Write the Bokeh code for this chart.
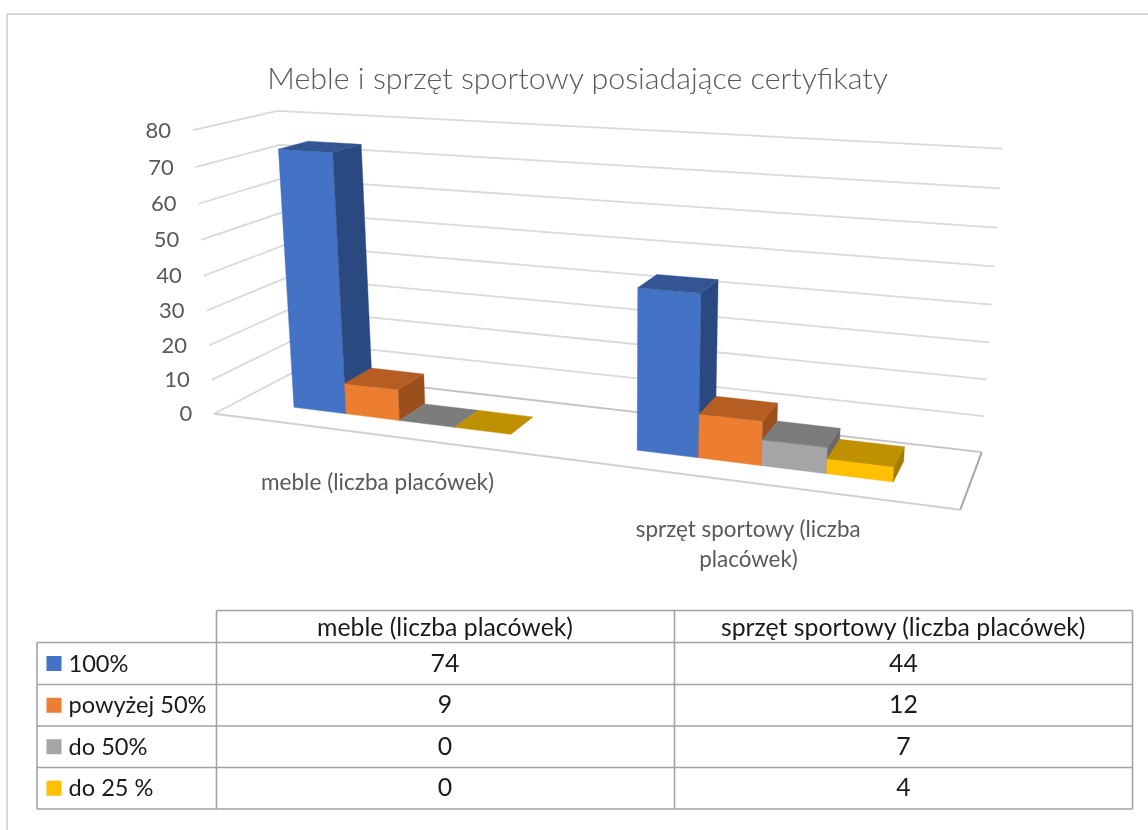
import numpy as np
from bokeh.plotting import figure
from bokeh.models import Range1d, ColumnDataSource
from bokeh.core.properties import value
from bokeh.embed import file_html
from bokeh.resources import INLINE

TITLE = "Meble i sprzęt sportowy posiadające certyfikaty"
categories = ["meble (liczba placówek)", "sprzęt sportowy (liczba placówek)"]
series = ["100%", "powyżej 50%", "do 50%", "do 25 %"]
v_100 = [74, 44]
v_pow50 = [9, 12]
v_do50 = [0, 7]
v_do25 = [0, 4]
y_ticks = [0, 10, 20, 30, 40, 50, 60, 70, 80]

front_col = ["#4472C4", "#ED7D31", "#A5A5A5", "#FFC000"]
top_col = ["#335593", "#B55D23", "#7C7C7C", "#BF9000"]
side_col = ["#2A4980", "#9B4F1D", "#6A6A6A", "#A37B00"]

FONT = value("Lato")
GRID = "#D9D9D9"
TXT = "#595959"

# camera fitted to the plot box corners: (u, w, v/vmax) -> screen
anchors = [((0, 0, 0), (213.5, 413)), ((1, 0, 0), (960, 509)), ((0, 1, 0), (293, 372)),
           ((1, 1, 0), (981, 452)), ((0, 0, 1), (192.5, 130)), ((0, 1, 1), (277, 110)),
           ((1, 1, 1), (1002, 148))]
A, b = [], []
for (u, w, h), (sx, sy) in anchors:
    A.append([u, w, h, 1, 0, 0, 0, 0, -sx*u, -sx*w, -sx*h]); b.append(sx)
    A.append([0, 0, 0, 0, u, w, h, 1, -sy*u, -sy*w, -sy*h]); b.append(sy)
cam = np.append(np.linalg.lstsq(np.array(A, float), np.array(b, float), rcond=None)[0], 1).reshape(3, 4)

VMAX = y_ticks[-1]
def proj(u, w, val):
    q = cam @ np.array([u, w, val/VMAX, 1.0])
    return float(q[0]/q[2]), float(q[1]/q[2])

p = figure(width=1148, height=830, x_range=Range1d(0, 1148), y_range=Range1d(830, 0),
           output_backend="svg", toolbar_location=None, min_border=0)
# the figure fills the window exactly, from its top left corner
p.styles = {"position": "fixed", "left": "0", "top": "0"}
p.axis.visible = False
p.grid.visible = False
p.outline_line_color = None

# chart frame
p.line([6.5, 6.5, 1148], [830, 13.5, 13.5], line_color=GRID, line_width=2)

# walls gridlines
for t in y_ticks[1:]:
    pts = [proj(0, 0, t), proj(0, 1, t), proj(1, 1, t)]
    p.line([a[0] for a in pts], [a[1] for a in pts], line_color=GRID, line_width=1.8)
# floor
pts = [proj(0, 0, 0), proj(0, 1, 0)]
p.line([a[0] for a in pts], [a[1] for a in pts], line_color=GRID, line_width=1.8)
pts = [proj(0, 1, 0), proj(1, 1, 0)]
p.line([a[0] for a in pts], [a[1] for a in pts], line_color="#C4C4C4", line_width=1.8)
pts = [proj(0, 0, 0), proj(1, 0, 0)]
p.line([a[0] for a in pts], [a[1] for a in pts], line_color="#D0D0D0", line_width=2)
pts = [proj(1, 0, 0), proj(1, 1, 0)]
p.line([a[0] for a in pts], [a[1] for a in pts], line_color="#A6A6A6", line_width=2)

# bars
GAP = 2.15
W0, W1 = 0.30, 0.67
values = [v_100, v_pow50, v_do50, v_do25]
xs, ys, cols = [], [], []
def face(pts, c):
    xs.append([a[0] for a in pts]); ys.append([a[1] for a in pts]); cols.append(c)
unit = 1 / (len(categories) * (len(series) + GAP))
for c in range(len(categories)):
    for s in range(len(series)):
        val = values[s][c]
        u0 = c * (len(series) + GAP) * unit + (GAP/2 + s) * unit
        u1 = u0 + unit
        if val > 0:
            face([proj(u0, W0, 0), proj(u1, W0, 0), proj(u1, W0, val), proj(u0, W0, val)], front_col[s])
            face([proj(u1, W0, 0), proj(u1, W1, 0), proj(u1, W1, val), proj(u1, W0, val)], side_col[s])
        face([proj(u0, W0, val), proj(u1, W0, val), proj(u1, W1, val), proj(u0, W1, val)], top_col[s])
p.patches("xs", "ys", fill_color="cols", line_color="cols", line_width=0.4,
          source=ColumnDataSource(dict(xs=xs, ys=ys, cols=cols)))

# title and tick labels
p.text([577.5], [76], text=[TITLE], text_font=value("Lato Light"), text_font_size="30.4px", text_color=TXT,
       text_align="center", text_baseline="middle")
tx = [proj(0, 0, t)[0] - 22 for t in y_ticks]
ty = [proj(0, 0, t)[1] for t in y_ticks]
p.text(tx, ty, text=[str(t) for t in y_ticks], text_font=FONT, text_font_size="22px",
       text_color=TXT, text_align="right", text_baseline="middle")

# category labels
p.text([377], [481], text=[categories[0]], text_font=FONT, text_font_size="22.6px", text_color=TXT,
       text_align="center", text_baseline="middle")
p.text([748, 748], [528, 558], text=["sprzęt sportowy (liczba", "placówek)"], text_font=FONT,
       text_font_size="22.4px", text_color=TXT, text_align="center", text_baseline="middle")

# data table
T_X = [36.5, 216, 674, 1132]
T_Y = [610, 642, 684, 725.5, 767, 808.5]
BORDER = "#A3A3A3"
p.multi_line([[T_X[0], T_X[3]]] * 4 + [[T_X[1], T_X[3]]],
             [[y, y] for y in T_Y[1:5]] + [[T_Y[0], T_Y[0]]],
             line_color=BORDER, line_width=1.6)
p.multi_line([[T_X[0], T_X[3]]], [[T_Y[5], T_Y[5]]], line_color=BORDER, line_width=1.6)
p.multi_line([[T_X[0], T_X[0]], [T_X[1], T_X[1]], [T_X[2], T_X[2]], [T_X[3], T_X[3]]],
             [[T_Y[1], T_Y[5]], [T_Y[0], T_Y[5]], [T_Y[0], T_Y[5]], [T_Y[0], T_Y[5]]],
             line_color=BORDER, line_width=1.6)
col_c = [(T_X[1] + T_X[2]) / 2 - 0.5, (T_X[2] + T_X[3]) / 2]
row_c = [(T_Y[i] + T_Y[i + 1]) / 2 for i in range(1, 5)]
text_y = [y - 1 for y in row_c]
TBL = "#1A1A1A"
p.text(col_c, [(T_Y[0] + T_Y[1]) / 2 - 0.5] * 2, text=categories, text_font=FONT, text_font_size="24.8px",
       text_color=TBL, text_align="center", text_baseline="middle")
p.rect([53.5] * 4, row_c, width=15, height=15, fill_color=front_col, line_color=None)
p.text([68] * 4, text_y, text=series, text_font=FONT, text_font_size="23.6px",
       text_color=TBL, text_align="left", text_baseline="middle")
for i in range(len(series)):
    p.text(col_c, [text_y[i]] * 2, text=[str(values[i][0]), str(values[i][1])], text_font=FONT,
           text_font_size="24.8px", text_color=TBL, text_align="center", text_baseline="middle")

open("out.html", "w").write(file_html(p, INLINE))
